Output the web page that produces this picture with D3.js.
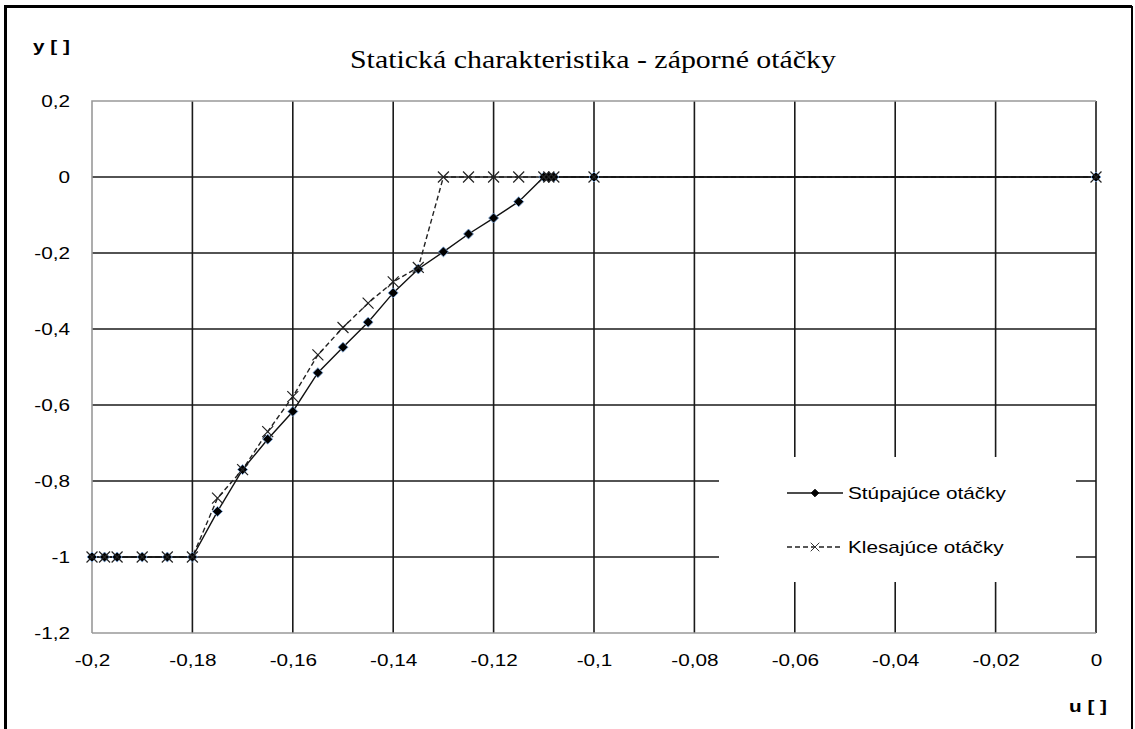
<!DOCTYPE html>
<html>
<head>
<meta charset="utf-8">
<script src="https://cdn.jsdelivr.net/npm/d3@7"></script>
<style>
  html, body { margin: 0; padding: 0; background: #fff; }
  svg { display: block; }
</style>
</head>
<body>
<svg id="chart" width="1135" height="729"></svg>
<script>
// Stúpajúce otáčky (rising speed)
const riseU = [-0.2, -0.1975, -0.195, -0.19, -0.185, -0.18, -0.175, -0.17, -0.165, -0.16,
  -0.155, -0.15, -0.145, -0.14, -0.135, -0.13, -0.125, -0.12, -0.115, -0.11, -0.109, -0.108, -0.1, 0];
const riseY = [-1, -1, -1, -1, -1, -1, -0.88, -0.77, -0.69, -0.617,
  -0.515, -0.448, -0.382, -0.305, -0.242, -0.197, -0.15, -0.108, -0.065, 0, 0, 0, 0, 0];

// Klesajúce otáčky (falling speed)
const fallU = [0, -0.1, -0.108, -0.109, -0.11, -0.115, -0.12, -0.125, -0.13, -0.135,
  -0.14, -0.145, -0.15, -0.155, -0.16, -0.165, -0.17, -0.175, -0.18, -0.185, -0.19, -0.195, -0.1975, -0.2];
const fallY = [0, 0, 0, 0, 0, 0, 0, 0, 0, -0.238,
  -0.276, -0.332, -0.396, -0.468, -0.578, -0.67, -0.77, -0.845, -1, -1, -1, -1, -1, -1];

const xTicks = [-0.2, -0.18, -0.16, -0.14, -0.12, -0.1, -0.08, -0.06, -0.04, -0.02, 0];
const yTicks = [0.2, 0, -0.2, -0.4, -0.6, -0.8, -1, -1.2];

const seriesNames = ["Stúpajúce otáčky", "Klesajúce otáčky"];
const titleText = "Statická charakteristika  - záporné otáčky";

const svg = d3.select("#chart");
const W = 1135, H = 729;
const plot = { left: 92, right: 1096, top: 101, bottom: 633 };

const x = d3.scaleLinear().domain([-0.2, 0]).range([plot.left, plot.right]);
const y = d3.scaleLinear().domain([-1.2, 0.2]).range([plot.bottom, plot.top]);

const fmt = v => String(+v.toFixed(3)).replace(".", ",");
const SANS = "'Liberation Sans', Arial, sans-serif";
const STRETCH = 1.22;

// widen text horizontally like the original rendering
function widen(sel, factor) {
  sel.each(function () {
    const len = this.getComputedTextLength();
    d3.select(this).attr("textLength", len * factor).attr("lengthAdjust", "spacingAndGlyphs");
  });
}

// outer frame (top, left, right)
svg.append("path")
  .attr("d", `M5.5,${H} L5.5,6.5 L1132,6.5`)
  .attr("fill", "none").attr("stroke", "#000").attr("stroke-width", 3);
svg.append("line").attr("x1", 1132).attr("x2", 1132).attr("y1", 6).attr("y2", H)
  .attr("stroke", "#000").attr("stroke-width", 2);

// grid
const g = svg.append("g");
g.selectAll("line.hg").data(yTicks.filter(v => v < 0.15 && v > -1.15)).join("line")
  .attr("x1", plot.left).attr("x2", plot.right)
  .attr("y1", d => y(d)).attr("y2", d => y(d))
  .attr("stroke", "#1a1a1a").attr("stroke-width", 1.6);
g.selectAll("line.vg").data(xTicks.filter(v => v > -0.195)).join("line")
  .attr("y1", plot.top).attr("y2", plot.bottom)
  .attr("x1", d => x(d)).attr("x2", d => x(d))
  .attr("stroke", "#1a1a1a").attr("stroke-width", 1.6);

// plot frame (gray left, top, bottom)
svg.append("path")
  .attr("d", `M${plot.left},${plot.bottom} L${plot.left},${plot.top} L${plot.right},${plot.top}`)
  .attr("fill", "none").attr("stroke", "#999").attr("stroke-width", 1.6);
svg.append("line")
  .attr("x1", plot.left).attr("x2", plot.right).attr("y1", plot.bottom).attr("y2", plot.bottom)
  .attr("stroke", "#999").attr("stroke-width", 1.6);

// axes (labels only)
const xAxis = d3.axisBottom(x).tickValues(xTicks).tickFormat(fmt).tickSize(0).tickPadding(0);
const yAxis = d3.axisLeft(y).tickValues(yTicks).tickFormat(fmt).tickSize(0).tickPadding(0);

const gx = svg.append("g").attr("transform", `translate(0,${plot.bottom})`).call(xAxis);
gx.select(".domain").remove();
gx.selectAll("text").attr("dy", null).attr("y", 33)
  .attr("font-family", SANS).attr("font-size", 17).attr("fill", "#000");

const gy = svg.append("g").call(yAxis);
gy.select(".domain").remove();
gy.selectAll("text").attr("dy", "0.35em").attr("x", 70)
  .attr("font-family", SANS).attr("font-size", 17).attr("fill", "#000");

// series
const rise = riseU.map((u, i) => [u, riseY[i]]);
const fall = fallU.map((u, i) => [u, fallY[i]]);
const line = d3.line().x(d => x(d[0])).y(d => y(d[1]));

svg.append("path").attr("d", line(fall))
  .attr("fill", "none").attr("stroke", "#222").attr("stroke-width", 1.4)
  .attr("stroke-dasharray", "5,3");
svg.append("path").attr("d", line(rise))
  .attr("fill", "none").attr("stroke", "#111").attr("stroke-width", 1.4);

const diamond = d3.symbol().type(d3.symbolDiamond2).size(64);
const cross = d3.symbol().type(d3.symbolX).size(80);

function drawDiamond(sel) {
  sel.attr("d", diamond()).attr("fill", "#000").attr("stroke", "#7aa6dc").attr("stroke-width", 0.8);
}
function drawCross(sel) {
  sel.attr("d", cross()).attr("fill", "none").attr("stroke", "#222").attr("stroke-width", 1.2);
}

svg.append("g").selectAll("path").data(rise).join("path")
  .attr("transform", d => `translate(${x(d[0])},${y(d[1])})`).call(drawDiamond);
svg.append("g").selectAll("path").data(fall).join("path")
  .attr("transform", d => `translate(${x(d[0])},${y(d[1])})`).call(drawCross);

// legend
const lg = svg.append("g");
lg.append("rect").attr("x", 719).attr("y", 457).attr("width", 357).attr("height", 125).attr("fill", "#fff");
const legendSmall = {
  diamond: d3.symbol().type(d3.symbolDiamond2).size(36),
  cross: d3.symbol().type(d3.symbolX).size(50)
};
const entries = [
  { name: seriesNames[0], cy: 493, dash: null, sym: legendSmall.diamond, fill: "#000", color: "#111" },
  { name: seriesNames[1], cy: 547, dash: "5,3", sym: legendSmall.cross, fill: "none", color: "#222" }
];
entries.forEach(e => {
  lg.append("line").attr("x1", 787).attr("x2", 843).attr("y1", e.cy).attr("y2", e.cy)
    .attr("stroke", e.color).attr("stroke-width", 1.4).attr("stroke-dasharray", e.dash);
  lg.append("path").attr("transform", `translate(815,${e.cy})`).attr("d", e.sym())
    .attr("fill", e.fill).attr("stroke", e.fill === "none" ? "#333" : "#000").attr("stroke-width", 1);
  lg.append("text").attr("x", 848).attr("y", e.cy).attr("dy", "0.35em")
    .attr("font-family", SANS).attr("font-size", 17).attr("fill", "#000").text(e.name);
});

// title
svg.append("text").attr("class", "title")
  .attr("x", 593).attr("y", 68).attr("text-anchor", "middle")
  .attr("font-family", "'Liberation Serif', 'Times New Roman', serif").attr("font-size", 26)
  .attr("fill", "#000").text(titleText);

// axis names
svg.append("text").attr("x", 33).attr("y", 52)
  .attr("font-family", SANS).attr("font-size", 17).attr("font-weight", "bold")
  .attr("fill", "#000").text("y [ ]");
svg.append("text").attr("x", 1107).attr("y", 712).attr("text-anchor", "end")
  .attr("font-family", SANS).attr("font-size", 17).attr("font-weight", "bold")
  .attr("fill", "#000").text("u [ ]");

widen(svg.selectAll("text:not(.title)"), STRETCH);
svg.select("text.title").attr("textLength", 486).attr("lengthAdjust", "spacingAndGlyphs");
</script>
</body>
</html>
